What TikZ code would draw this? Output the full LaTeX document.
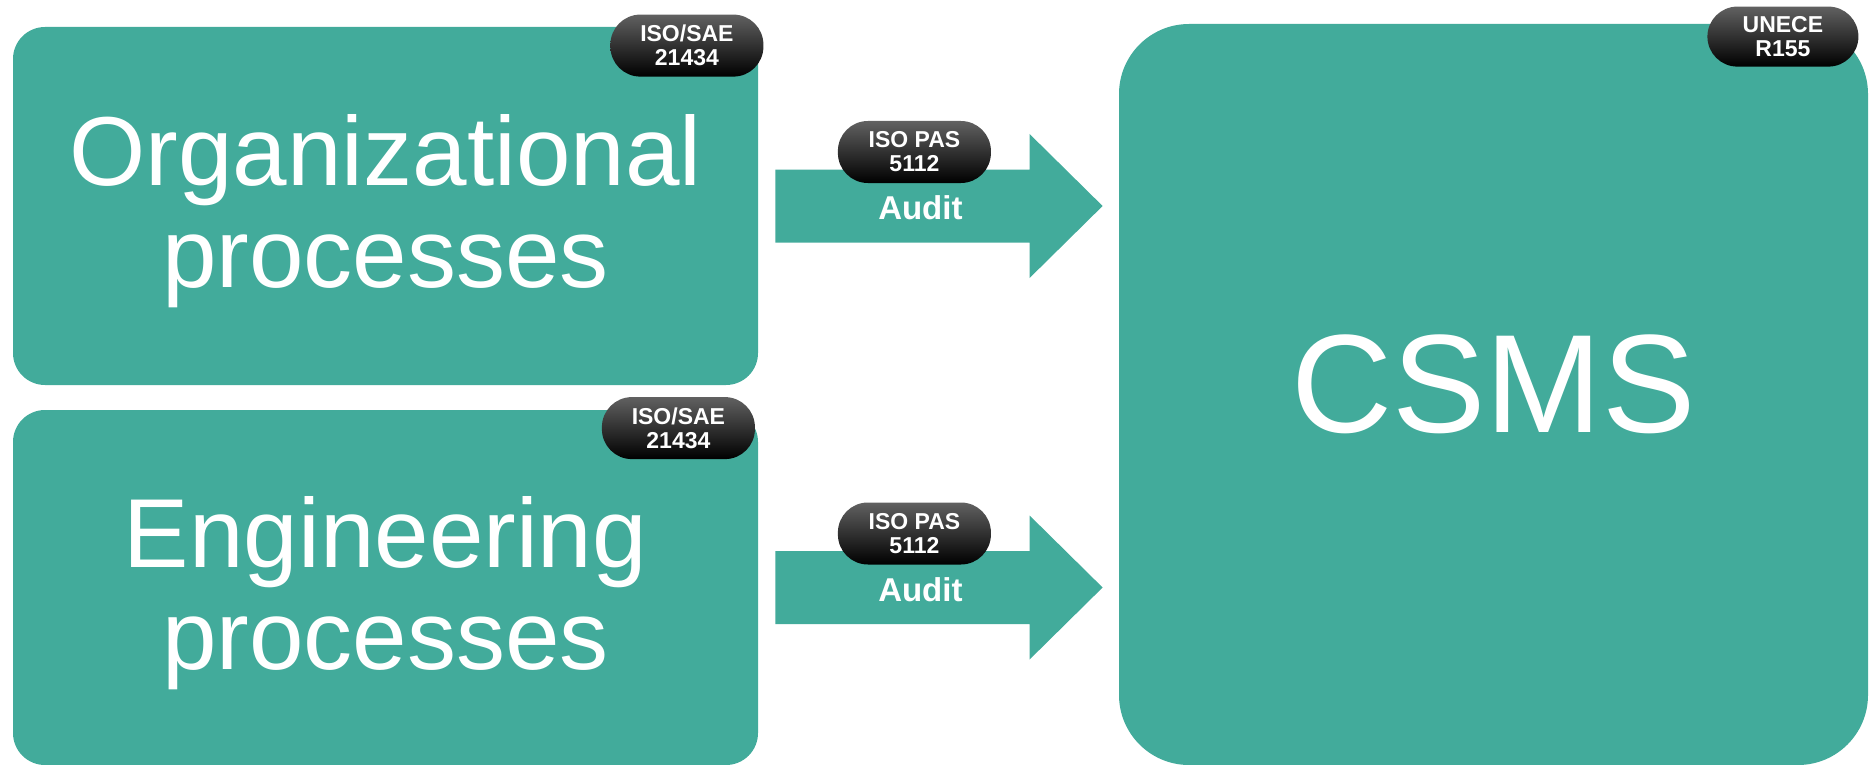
\documentclass[tikz,border=0pt]{standalone}
\usepackage{fontspec}
\setmainfont{Liberation Sans}
\usetikzlibrary{calc}
\definecolor{csmsteal}{HTML}{42AB9B}

\begin{document}
\begin{tikzpicture}[x=0.5pt, y=-0.5pt,
    procbox/.style={fill=csmsteal, rounded corners=16pt, text=white, align=center,
      font=\fontsize{49pt}{51pt}\selectfont, minimum width=372.5pt, inner sep=0pt, text depth=5pt},
    badge/.style={rounded corners=15pt, top color=black!62, middle color=black, bottom color=black,
      text=white, align=center, font=\bfseries\fontsize{11.5pt}{12pt}\selectfont,
      minimum width=76.5pt, minimum height=31pt, inner sep=0pt},
    flow/.style={fill=csmsteal},
    audit/.style={text=white, inner sep=0pt, font=\bfseries\fontsize{16.5pt}{18pt}\selectfont}]
  \useasboundingbox (0,0) rectangle (1874,765);
  \node[procbox, minimum height=179pt] (org) at (385.5,206) {Organizational\\processes};
  \node[procbox, minimum height=177.5pt] (eng) at (385.5,587.5) {Engineering\\processes};
  \node[procbox, rounded corners=35pt, minimum width=374.5pt, minimum height=370.5pt,
    font=\fontsize{70pt}{72pt}\selectfont, text depth=11pt] (csms) at (1493.5,394.5) {CSMS};
  \foreach \src in {org,eng} {
    \coordinate (\src tail) at ($(\src.east)+(17,0)$);
    \coordinate (\src tip) at ($(csms.west |- \src.east)+(-16,0)$);
    \fill[flow] ($(\src tail)+(0,-36.5)$) -- ($(\src tip)+(-73,-36.5)$) -- ($(\src tip)+(-73,-72)$)
      -- (\src tip) -- ($(\src tip)+(-73,72)$) -- ($(\src tip)+(-73,36.5)$)
      -- ($(\src tail)+(0,36.5)$) -- cycle;
    \node[badge] (\src pas) at ($(\src tail)+(139,-54)$) {ISO PAS\\5112};
    \node[audit] (\src audit) at ($(\src tail)+(145,2)$) {Audit};
  }
  \node[badge] (orgstd) at ($(org.north east)+(-71.5,19)$) {ISO/SAE\\21434};
  \node[badge] (engstd) at ($(eng.north east)+(-80,18.5)$) {ISO/SAE\\21434};
  \node[badge, minimum width=75.5pt, minimum height=30pt] (csmsstd) at ($(csms.north east)+(-85.5,13)$) {UNECE\\R155};
\end{tikzpicture}
\end{document}
